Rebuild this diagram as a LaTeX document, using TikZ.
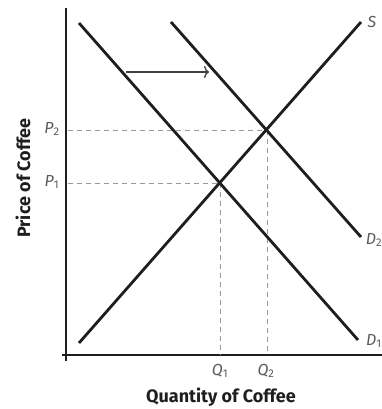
\documentclass[tikz,border=0pt]{standalone}
\usepackage{fontspec}
\setmainfont{Fira Sans}
\usetikzlibrary{arrows.meta}
\definecolor{ink}{HTML}{1E1E1E}
\definecolor{guidegray}{HTML}{9A9A9A}
\definecolor{labgray}{HTML}{5A5A5A}
\newcommand{\lb}[2]{\textit{#1}\textsubscript{\upshape #2}}
\begin{document}
\begin{tikzpicture}[x=1pt,y=-1pt,
  curve/.style={line width=2.8pt,ink},
  axisline/.style={line width=2.8pt,ink},
  guide/.style={line width=1pt,guidegray,dash pattern=on 5pt off 4pt},
  lbl/.style={font=\fontsize{16}{16}\selectfont,text=labgray,inner sep=0pt},
  title/.style={font=\bfseries\fontsize{18}{18}\selectfont,text=ink,inner sep=0pt}]
\useasboundingbox (0,0) rectangle (382,409);
% axes
\coordinate (ytop) at (66,8);
\coordinate (ybot) at (66,361);
\coordinate (xl) at (62,355);
\coordinate (xr) at (382,355);
\draw[axisline] (ytop) -- (ybot);
\draw[axisline] (xl) -- (xr);
% equilibria
\coordinate (E1) at (220,183);
\coordinate (E2) at (267,130);
\coordinate (p1) at (68,183);
\coordinate (p2) at (68,130);
\coordinate (q1) at (220,355);
\coordinate (q2) at (267,355);
\draw[guide] (p2) -- (E2);
\draw[guide] (p1) -- (E1);
\draw[guide] (E1) -- (q1);
\draw[guide] (E2) -- (q2);
% curves
\coordinate (d1a) at (79,23);
\coordinate (d1b) at (358,340);
\coordinate (d2a) at (171,22);
\coordinate (d2b) at (361,237);
\coordinate (sa) at (79,343);
\coordinate (sb) at (361,22);
\draw[curve] (d1a) -- (d1b);
\draw[curve] (d2a) -- (d2b);
\draw[curve] (sa) -- (sb);
% shift arrow
\coordinate (ar1) at (126,72);
\coordinate (ar2) at (209,72);
\draw[line width=1.3pt,ink!85,-{To[length=5pt,width=12pt]}] (ar1) -- (ar2);
% labels
\node[lbl] (P2) at (52,129) {\lb{P}{2}};
\node[lbl] (P1) at (52,182) {\lb{P}{1}};
\node[lbl] (Q1) at (220,371) {\lb{Q}{1}};
\node[lbl] (Q2) at (266,371) {\lb{Q}{2}};
\node[lbl] (S) at (372,22) {\textit{S}};
\node[lbl] (D2) at (374,240) {\lb{D}{2}};
\node[lbl] (D1) at (374,341) {\lb{D}{1}};
\node[title] (xt) at (221,397) {Quantity of Coffee};
\node[title,rotate=90] (yt) at (23,178) {Price of Coffee};
\end{tikzpicture}
\end{document}
